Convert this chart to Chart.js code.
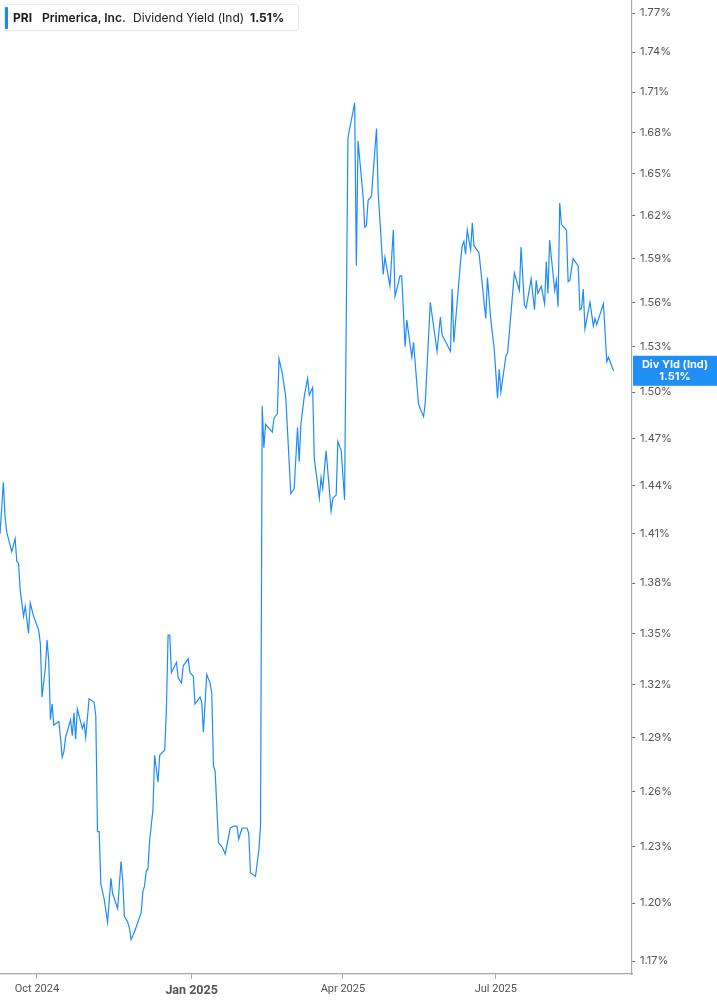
<!DOCTYPE html>
<html>
<head>
<meta charset="utf-8">
<script src="https://cdn.jsdelivr.net/npm/chart.js@4.4.1/dist/chart.umd.min.js"></script>
<style>
  html, body { margin: 0; padding: 0; background: #fff; }
  #wrap { position: relative; width: 717px; height: 1005px; }
  #c { position: absolute; left: 0; top: 0; }
  #legend {
    position: absolute; left: 4px; top: 4px; width: 295px; height: 27px;
    border: 1px solid #e8e8e8; border-radius: 3px; background: #fff;
    font-family: Inter, "Noto Sans", sans-serif; font-size: 12px; color: #1a1a1a;
    box-sizing: border-box;
  }
  #legend .bar { position: absolute; left: 0; top: 2px; width: 3px; height: 22px; background: #1e88f5; border-radius: 1px; }
  #legend span { position: absolute; top: 5px; white-space: nowrap; line-height: 15px; }
</style>
</head>
<body>
<div id="wrap">
  <canvas id="c" width="717" height="1005"></canvas>
  <div id="legend">
    <div class="bar"></div>
    <span style="left:8px;font-weight:700;">PRI</span>
    <span style="left:37px;font-weight:600;">Primerica, Inc.</span>
    <span style="left:128px;font-weight:400;">Dividend Yield (Ind)</span>
    <span style="left:245px;font-weight:700;">1.51%</span>
  </div>
</div>
<script>
// Day offsets from 2025-01-01 (negative = 2024)
const days = [
  -114,-112,-111,-110,-107,-105,-104,-103,-102,-100,
  -99,-97,-96,-94,-91,-90,-89,-87,-86,-85,
  -84,-83,-82,-79,-78,-77,-76,-75,-72,-71,
  -70,-69,-68,-65,-64,-63,-61,-58,-57,-56,
  -55,-54,-52,-51,-50,-48,-47,-44,-42,-41,
  -40,-38,-37,-36,-34,-32,-30,-29,-28,-27,
  -26,-25,-23,-22,-20,-19,-16,-15,-14,-13,
  -12,-9,-8,-6,-5,-2,-1,1,2,5,
  6,7,9,11,12,13,14,16,18,20,
  23,25,27,28,30,33,34,35,38,40,
  41,42,43,44,48,49,51,52,54,56,
  59,61,63,64,65,67,69,70,72,73,
  76,77,78,80,83,84,86,87,89,91,
  93,97,98,99,102,103,104,105,107,110,
  111,112,114,115,118,120,121,124,125,127,
  128,131,132,135,138,139,142,146,148,149,
  154,155,156,160,161,162,163,164,166,167,
  168,171,175,176,178,180,182,183,184,187,
  188,192,195,196,198,199,202,204,205,206,
  208,210,211,212,213,216,217,218,219,220,
  223,224,225,227,230,231,232,233,234,237,
  239,240,241,245,247,248,251
];
// Dividend yield (%)
const yieldValues = [
  1.410,1.442,1.421,1.411,1.399,1.407,1.393,1.392,1.376,1.360,
  1.366,1.350,1.368,1.360,1.352,1.344,1.313,1.330,1.346,1.334,
  1.300,1.309,1.297,1.299,1.290,1.279,1.282,1.290,1.300,1.291,
  1.304,1.289,1.306,1.295,1.298,1.290,1.312,1.310,1.302,1.238,
  1.238,1.210,1.202,1.196,1.190,1.213,1.205,1.197,1.222,1.212,
  1.193,1.190,1.187,1.181,1.185,1.190,1.195,1.206,1.209,1.217,
  1.218,1.233,1.250,1.280,1.265,1.280,1.283,1.306,1.349,1.349,
  1.327,1.333,1.324,1.321,1.331,1.335,1.327,1.325,1.309,1.313,
  1.310,1.293,1.326,1.321,1.315,1.274,1.271,1.232,1.230,1.226,
  1.240,1.241,1.241,1.234,1.240,1.240,1.237,1.216,1.214,1.228,
  1.241,1.491,1.464,1.479,1.474,1.483,1.486,1.522,1.512,1.497,
  1.435,1.438,1.477,1.455,1.479,1.497,1.509,1.498,1.503,1.457,
  1.432,1.445,1.438,1.462,1.424,1.432,1.434,1.468,1.462,1.431,
  1.676,1.702,1.585,1.674,1.634,1.612,1.613,1.631,1.634,1.683,
  1.636,1.618,1.579,1.591,1.571,1.610,1.564,1.578,1.578,1.530,
  1.548,1.523,1.533,1.492,1.484,1.493,1.560,1.527,1.550,1.538,
  1.527,1.569,1.533,1.588,1.599,1.602,1.593,1.610,1.596,1.615,
  1.599,1.594,1.549,1.577,1.548,1.529,1.496,1.515,1.500,1.524,
  1.526,1.580,1.568,1.598,1.558,1.556,1.576,1.555,1.575,1.566,
  1.571,1.559,1.588,1.566,1.603,1.568,1.575,1.557,1.629,1.614,
  1.610,1.574,1.575,1.590,1.585,1.555,1.556,1.569,1.542,1.560,
  1.544,1.549,1.545,1.559,1.520,1.523,1.514
];
const yTicks = [1.17,1.20,1.23,1.26,1.29,1.32,1.35,1.38,1.41,1.44,1.47,1.50,1.53,1.56,1.59,1.62,1.65,1.68,1.71,1.74,1.77];
const xTickDays = [-92, 0, 90, 181];
const xTickLabels = ['Oct 2024', 'Jan 2025', 'Apr 2025', 'Jul 2025'];
const seriesLabel = 'Div Yld (Ind)';

const lineColor = '#1e8cf8';

const lastBox = {
  id: 'lastBox',
  afterDraw(chart) {
    const ctx = chart.ctx;
    const ys = chart.scales.y;
    const last = yieldValues[yieldValues.length - 1];
    const py = ys.getPixelForValue(last);
    const x0 = chart.chartArea.right + 1;
    const w = chart.width - x0;
    ctx.save();
    ctx.fillStyle = '#1f8ef5';
    ctx.fillRect(x0, py - 15, w, 30);
    ctx.fillStyle = '#fff';
    ctx.font = '700 11px Inter, "Noto Sans", sans-serif';
    ctx.textAlign = 'center';
    ctx.textBaseline = 'middle';
    const cx = x0 + w / 2;
    ctx.fillText(seriesLabel, cx, py - 6);
    ctx.fillText(last.toFixed(2) + '%', cx, py + 6);
    ctx.restore();
  }
};

Chart.defaults.font.family = 'Inter, "Noto Sans", sans-serif';

function zeroPad(s) { s.paddingTop = 0; s.paddingBottom = 0; s.paddingLeft = 0; s.paddingRight = 0; }

new Chart(document.getElementById('c'), {
  type: 'line',
  data: {
    datasets: [{
      label: seriesLabel,
      data: days.map((d, i) => ({ x: d, y: yieldValues[i] })),
      borderColor: lineColor,
      borderWidth: 1.2,
      pointRadius: 0,
      tension: 0,
      fill: false
    }]
  },
  options: {
    responsive: false,
    animation: false,
    devicePixelRatio: 1,
    layout: { padding: 0 },
    plugins: { legend: { display: false }, tooltip: { enabled: false } },
    scales: {
      x: {
        type: 'linear',
        position: 'bottom',
        min: -114,
        max: 262,
        afterBuildTicks: (s) => { s.ticks = xTickDays.map(v => ({ value: v })); },
        afterFit: (s) => { s.height = 31; zeroPad(s); },
        grid: { drawOnChartArea: false, drawTicks: true, tickLength: 5, color: '#aaa' },
        border: { display: true, color: '#a8a8a8', width: 1.2 },
        ticks: {
          autoSkip: false,
          maxRotation: 0,
          padding: 4,
          color: '#555',
          font: (ctx) => (ctx.tick && ctx.tick.value === 0)
            ? { family: 'Roboto, sans-serif', size: 12.5, weight: '700' }
            : { family: 'Roboto, sans-serif', size: 11, weight: '400' },
          callback: (v, i) => xTickLabels[i]
        }
      },
      y: {
        type: 'logarithmic',
        position: 'right',
        min: 1.1634,
        max: 1.7801,
        afterBuildTicks: (s) => { s.ticks = yTicks.map(v => ({ value: v })); },
        afterFit: (s) => { s.width = 85; zeroPad(s); },
        grid: { drawOnChartArea: false, drawTicks: true, tickLength: 3, color: '#666' },
        border: { display: true, color: '#a8a8a8', width: 1.2 },
        ticks: {
          padding: 5,
          color: '#555',
          font: { size: 11 },
          callback: (v) => Number(v).toFixed(2) + '%'
        }
      }
    }
  },
  plugins: [lastBox]
});
</script>
</body>
</html>
